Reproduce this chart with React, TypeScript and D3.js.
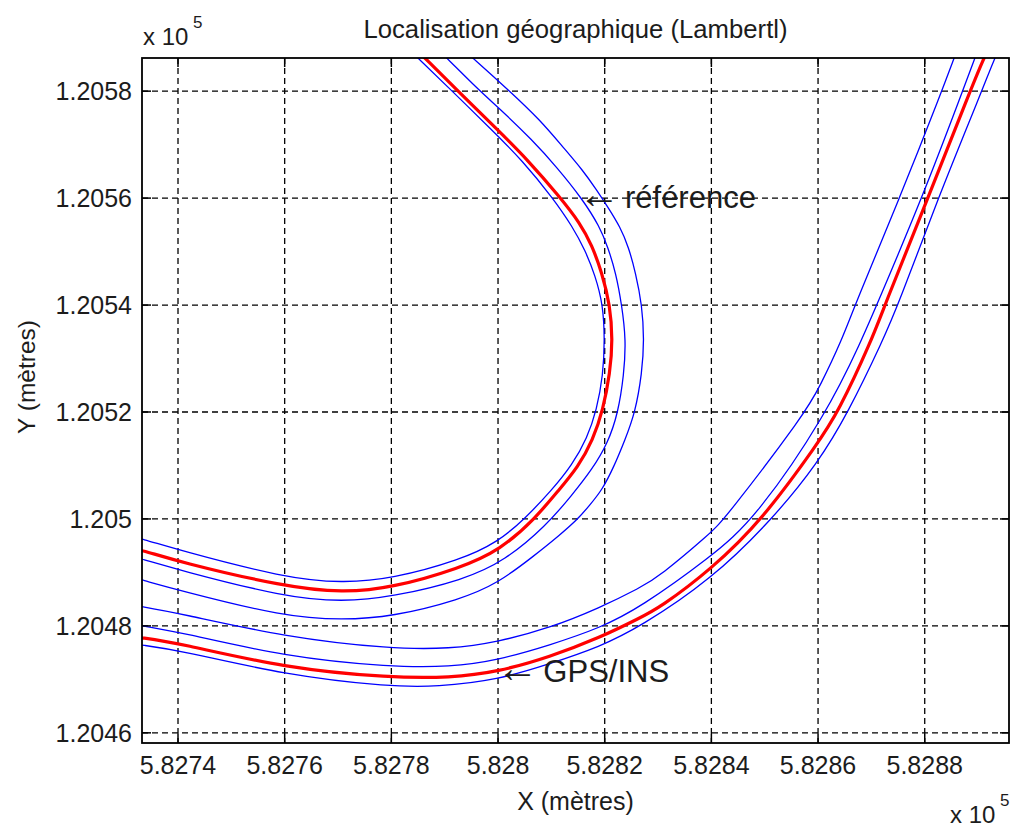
import React from "react";
import * as d3 from "d3";

// ---- data (metres, Lambert I) ----
const xTicks = [582740, 582760, 582780, 582800, 582820, 582840, 582860, 582880];
const yTicks = [120460, 120480, 120500, 120520, 120540, 120560, 120580];
const xDomain = [582733.25, 582895.8];
const yDomain = [120458.1, 120586.2];

type P = [number, number];

// Reference road (inner curve)
const refInnerEdge: P[] = [
  [582783.1, 120588.0], [582785.0, 120586.2], [582791.4, 120580.0], [582798.9, 120572.7], [582804.5, 120567.1],
  [582810.3, 120560.0], [582814.0, 120554.6], [582816.3, 120550.3], [582818.2, 120545.6], [582819.7, 120540.0],
  [582820.0, 120533.5], [582819.7, 120526.9], [582818.5, 120520.4], [582816.7, 120515.1], [582813.9, 120510.1],
  [582810.1, 120505.4], [582805.0, 120500.0], [582800.0, 120495.7], [582792.9, 120492.3], [582780.1, 120488.8],
  [582770.9, 120488.0], [582759.9, 120489.0], [582740.0, 120494.2], [582733.3, 120496.3], [582729.1, 120497.2],
];
const refTrack: P[] = [
  [582784.4, 120588.0], [582786.3, 120586.2], [582792.5, 120580.0], [582800.0, 120572.7], [582805.6, 120567.1],
  [582811.6, 120560.2], [582815.4, 120555.3], [582817.6, 120551.2], [582819.5, 120546.0], [582821.0, 120540.0],
  [582821.5, 120533.5], [582821.0, 120527.3], [582819.7, 120520.4], [582817.8, 120514.8], [582815.0, 120509.7],
  [582811.4, 120505.4], [582806.9, 120500.0], [582800.4, 120494.2], [582792.9, 120490.8], [582780.1, 120487.1],
  [582770.9, 120486.2], [582760.1, 120487.3], [582740.0, 120492.0], [582733.3, 120494.2], [582729.1, 120495.0],
];
const refOuterEdge1: P[] = [
  [582788.5, 120588.0], [582790.4, 120586.2], [582796.6, 120580.0], [582800.0, 120577.0], [582806.5, 120570.8],
  [582811.0, 120565.8], [582815.7, 120560.0], [582819.1, 120554.6], [582820.6, 120550.8], [582822.1, 120546.0],
  [582823.2, 120540.0], [582824.0, 120533.5], [582823.6, 120526.9], [582822.5, 120519.8], [582820.6, 120514.2],
  [582817.6, 120509.2], [582813.9, 120504.5], [582809.0, 120498.7], [582801.3, 120492.2], [582793.6, 120488.6],
  [582780.1, 120485.4], [582770.9, 120484.5], [582759.9, 120485.4], [582740.0, 120490.5], [582733.3, 120492.5],
  [582729.1, 120493.6],
];
const refOuterEdge2: P[] = [
  [582793.2, 120588.0], [582795.3, 120586.2], [582802.2, 120580.0], [582807.9, 120574.6], [582812.2, 120569.5],
  [582815.9, 120565.2], [582818.5, 120561.5], [582820.6, 120558.3], [582822.9, 120554.6], [582824.5, 120550.8],
  [582825.8, 120546.0], [582827.0, 120540.0], [582827.4, 120533.5], [582827.0, 120527.3], [582825.7, 120519.8],
  [582823.8, 120514.8], [582821.7, 120509.7], [582819.5, 120505.4], [582817.2, 120502.6], [582815.0, 120500.0],
  [582811.6, 120497.0], [582806.5, 120492.9], [582800.0, 120488.0], [582792.9, 120484.9], [582780.1, 120481.7],
  [582770.9, 120481.1], [582759.9, 120481.7], [582740.0, 120486.7], [582733.3, 120488.6], [582729.1, 120489.7],
];

// GPS/INS road (outer curve)
const gpsInnerEdge1: P[] = [
  [582729.1, 120484.3], [582733.3, 120483.6], [582740.0, 120482.4], [582760.1, 120477.9], [582779.9, 120475.7],
  [582791.0, 120475.7], [582800.0, 120477.0], [582809.7, 120479.6], [582819.1, 120483.4], [582826.6, 120487.1],
  [582830.3, 120489.3], [582839.9, 120497.4], [582842.5, 120500.0], [582857.6, 120519.8], [582860.3, 120524.7],
  [582864.5, 120533.5], [582866.9, 120540.0], [582875.3, 120560.0], [582883.2, 120580.0], [582885.5, 120586.2],
  [582886.2, 120588.0],
];
const gpsInnerEdge2: P[] = [
  [582729.1, 120480.9], [582733.3, 120480.0], [582740.0, 120478.9], [582760.1, 120474.2], [582779.9, 120472.3],
  [582791.0, 120472.3], [582800.0, 120473.6], [582809.7, 120476.4], [582819.1, 120479.6], [582826.6, 120483.4],
  [582839.9, 120492.9], [582848.2, 120500.0], [582861.7, 120519.8], [582868.2, 120533.5], [582871.0, 120540.0],
  [582879.5, 120560.0], [582887.1, 120580.0], [582889.4, 120586.2], [582890.1, 120588.0],
];
const gpsTrack: P[] = [
  [582729.1, 120478.3], [582733.3, 120477.8], [582740.0, 120476.8], [582760.1, 120472.1], [582779.9, 120470.3],
  [582791.0, 120470.3], [582800.0, 120471.4], [582809.7, 120474.2], [582819.1, 120477.8], [582826.6, 120481.5],
  [582830.3, 120483.4], [582839.9, 120490.5], [582849.7, 120500.0], [582860.0, 120514.2], [582863.7, 120519.8],
  [582870.1, 120533.5], [582872.5, 120540.0], [582880.6, 120560.0], [582888.5, 120580.0], [582891.1, 120586.2],
  [582892.0, 120588.0],
];
const gpsOuterEdge: P[] = [
  [582729.1, 120477.0], [582733.3, 120476.4], [582740.0, 120475.5], [582760.1, 120470.8], [582779.9, 120468.6],
  [582788.5, 120468.6], [582800.0, 120469.9], [582809.7, 120472.9], [582819.1, 120476.1], [582826.6, 120479.8],
  [582839.9, 120488.6], [582851.5, 120500.0], [582860.0, 120510.5], [582865.6, 120519.8], [582872.2, 120533.5],
  [582875.0, 120540.0], [582882.5, 120560.0], [582890.7, 120580.0], [582893.1, 120586.2], [582894.1, 120588.0],
];

const blueLines = [refInnerEdge, refOuterEdge1, refOuterEdge2, gpsInnerEdge1, gpsInnerEdge2, gpsOuterEdge];
const redLines = [refTrack, gpsTrack];

const annotations = [
  { label: "référence", x: 582816.3, y: 120560.0 },
  { label: "GPS/INS", x: 582801.0, y: 120471.4 },
];

const title = "Localisation géographique (Lambertl)";
const xLabel = "X (mètres)";
const yLabel = "Y (mètres)";

// ---- layout ----
const W = 1011;
const H = 828;
const L = 142, R = 1009, T = 58, B = 743;
const FONT = "'Liberation Sans', Arial, Helvetica, sans-serif";
const TXT = "#1c1c1c";

const fmt = (v: number) => String(+(v / 1e5).toFixed(4));

export default function App() {
  const x = d3.scaleLinear().domain(xDomain).range([L, R]);
  const y = d3.scaleLinear().domain(yDomain).range([B, T]);
  const line = d3
    .line<P>()
    .x((d) => x(d[0]))
    .y((d) => y(d[1]))
    .curve(d3.curveBasis);
  const tick = 9;

  return (
    <svg width={W} height={H} style={{ position: "absolute", left: 0, top: 0, background: "#fff" }} fontFamily={FONT}>
      <defs>
        <clipPath id="plot">
          <rect x={L} y={T} width={R - L} height={B - T} />
        </clipPath>
      </defs>
      <rect x={0} y={0} width={W} height={H} fill="#fff" />
      {/* grid */}
      <g stroke="#000" strokeWidth={1.3} strokeDasharray="6,4">
        {xTicks.map((v) => (
          <line key={"gx" + v} x1={x(v)} x2={x(v)} y1={T} y2={B} />
        ))}
        {yTicks.map((v) => (
          <line key={"gy" + v} x1={L} x2={R} y1={y(v)} y2={y(v)} />
        ))}
      </g>
      {/* data */}
      <g clipPath="url(#plot)" fill="none" strokeLinejoin="round">
        {blueLines.map((d, i) => (
          <path key={"b" + i} d={line(d) || ""} stroke="#0000ff" strokeWidth={1.3} />
        ))}
        {redLines.map((d, i) => (
          <path key={"r" + i} d={line(d) || ""} stroke="#ff0000" strokeWidth={3.2} />
        ))}
      </g>
      {/* ticks */}
      <g stroke="#000" strokeWidth={1.5}>
        {xTicks.map((v) => (
          <g key={"tx" + v}>
            <line x1={x(v)} x2={x(v)} y1={B} y2={B - tick} />
            <line x1={x(v)} x2={x(v)} y1={T} y2={T + tick} />
          </g>
        ))}
        {yTicks.map((v) => (
          <g key={"ty" + v}>
            <line x1={L} x2={L + tick} y1={y(v)} y2={y(v)} />
            <line x1={R} x2={R - tick} y1={y(v)} y2={y(v)} />
          </g>
        ))}
      </g>
      <rect x={L} y={T} width={R - L} height={B - T} fill="none" stroke="#000" strokeWidth={1.8} />
      {/* tick labels */}
      <g fill={TXT} fontSize={25}>
        {xTicks.map((v) => (
          <text key={"lx" + v} x={x(v)} y={774} textAnchor="middle">
            {fmt(v)}
          </text>
        ))}
        {yTicks.map((v) => (
          <text key={"ly" + v} x={132} y={y(v) + 9} textAnchor="end">
            {fmt(v)}
          </text>
        ))}
      </g>
      {/* exponent markers */}
      <g fill={TXT}>
        <text x={143} y={45} fontSize={24}>x 10</text>
        <text x={193} y={28} fontSize={17}>5</text>
        <text x={950} y={823} fontSize={24}>x 10</text>
        <text x={1000} y={806} fontSize={17}>5</text>
      </g>
      {/* title & labels */}
      <text x={(L + R) / 2} y={38} textAnchor="middle" fontSize={25.7} fill={TXT}>
        {title}
      </text>
      <text x={(L + R) / 2} y={810} textAnchor="middle" fontSize={25} fill={TXT}>
        {xLabel}
      </text>
      <text transform={`translate(35, 377) rotate(-90)`} textAnchor="middle" fontSize={24.5} fill={TXT}>
        {yLabel}
      </text>
      {/* annotations */}
      {annotations.map((a) => (
        <text key={a.label} x={x(a.x)} y={y(a.y) + 10} fontSize={31} fill={TXT}>
          <tspan fontSize={42} dx={-7}>{"\u2190"}</tspan>
          <tspan dx={5}>{a.label}</tspan>
        </text>
      ))}
    </svg>
  );
}
